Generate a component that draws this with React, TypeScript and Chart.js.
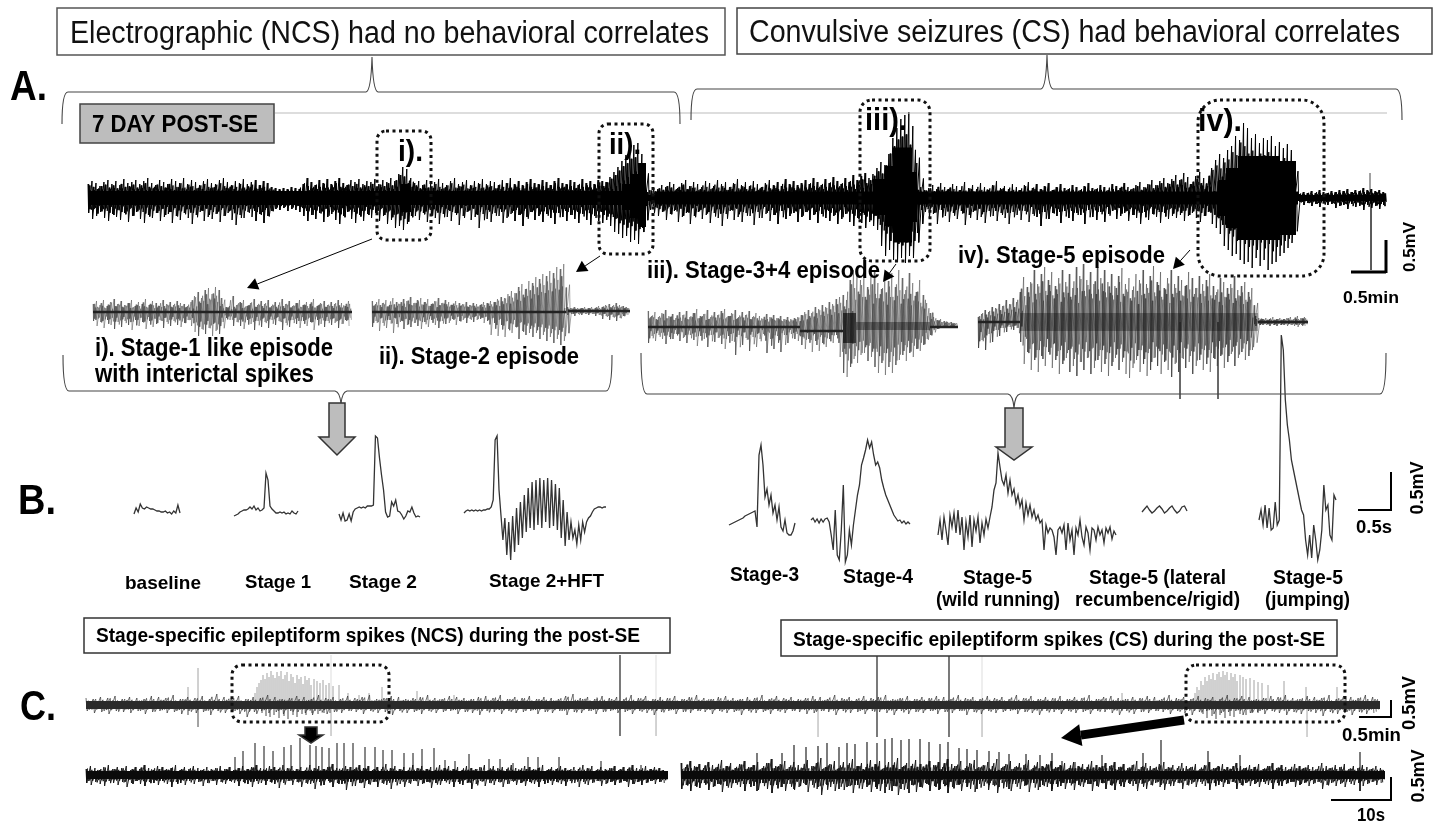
import React, { useEffect, useRef } from "react";
import { Chart, registerables } from "chart.js";
Chart.register(...registerables);

// ---- Panel A overview EEG: envelope amplitudes per sample
const mainHi = [14,17,15,12,16,18,14,17,13,19,15,16,18,14,17,20,15,13,18,16,14,19,17,15,20,14,18,16,13,17,19,15,14,18,20,16,13,17,15,19,14,16,18,13,17,15,11,10,9,10,9,11,10,9,14,20,16,13,18,15,19,14,17,20,15,13,18,16,19,14,17,
16,19,14,18,16,20,17,24,31,29,20,
15,17,13,18,14,16,19,15,13,17,20,14,16,18,13,17,15,19,14,17,16,13,18,15,20,14,17,13,16,19,15,14,18,16,13,17,20,15,14,18,16,13,19,15,17,14,18,
17,16,21,26,31,37,43,47,53,55,44,
7,8,10,9,13,11,16,14,10,15,18,12,16,14,11,17,15,12,18,14,16,11,15,19,13,16,12,17,14,11,15,18,13,16,12,19,14,17,13,15,18,14,20,16,13,19,15,21,17,14,20,16,23,18,22,25,20,24,
30,36,33,44,60,70,79,83,86,72,35,11,
8,10,13,9,15,11,9,14,12,8,16,10,13,9,15,11,8,13,17,10,12,9,14,11,8,13,16,10,14,9,12,15,8,11,14,10,9,13,11,8,12,15,10,9,13,11,8,14,12,10,15,11,9,13,16,11,14,18,13,17,20,15,19,
23,18,25,21,14,22,26,20,12,
30,38,44,40,48,52,62,58,75,70,60,64,55,60,58,62,52,56,50,54,48,
5,4,6,5,7,5,8,6,5,7,6,8,7,9,6,8,7,10,8,9,7,8,6];
const mainLo = [15,21,18,14,20,23,16,19,22,15,24,18,14,21,25,17,20,15,23,19,16,25,18,22,15,20,26,17,14,23,19,21,16,24,18,15,22,27,17,20,14,19,23,16,25,18,13,11,12,10,13,11,12,14,18,23,17,21,15,24,19,16,22,26,18,14,21,25,17,23,16,
20,15,23,18,26,22,30,28,32,26,18,
18,22,15,24,17,20,26,16,19,23,15,27,18,14,22,19,30,16,21,24,15,18,25,20,16,23,17,28,19,14,22,18,24,16,20,26,15,19,23,17,21,25,16,22,27,18,23,
25,22,28,34,36,40,38,44,42,46,30,
8,12,15,18,14,22,16,13,24,19,15,26,18,14,21,17,25,15,20,28,16,13,22,19,24,15,18,27,14,20,16,23,17,26,13,21,18,15,24,19,14,22,17,25,16,20,23,18,26,21,16,24,28,20,25,30,24,28,
32,48,58,52,62,64,60,65,58,60,35,12,
14,20,16,26,12,18,24,15,21,13,27,17,14,22,19,25,13,18,23,15,20,26,14,17,22,13,24,16,19,28,14,21,15,18,25,13,20,23,15,17,26,12,19,22,14,24,16,13,21,18,15,23,17,20,26,14,22,16,19,25,15,21,18,
20,17,23,18,15,20,24,18,14,
26,30,36,48,52,58,56,62,66,64,70,60,68,62,72,66,64,58,55,50,45,
6,4,7,5,8,6,9,5,7,6,10,8,7,11,6,9,8,12,7,10,8,11,7];
const mainSpikeT = [1370, 1371];
const mainSpikeH = [25, -72];

// ---- Panel A expanded episodes
const iHi = [8,11,7,12,6,10,13,8,11,7,9,12,6,10,8,13,7,11,9,6,12,8,10,7,11,9,8,6,10,16,20,14,22,24,18,25,22,8,5,6,16,7,10,12,6,9,13,7,11,8,12,6,10,7,13,8,11,6,9,12,7,10,8,13,6,9,11,7,10,8,12,9,6,11];
const iLo = [9,14,10,16,8,13,17,10,15,9,13,18,8,14,10,17,9,15,12,8,16,10,14,9,13,15,11,8,14,20,24,17,22,16,24,19,22,10,6,8,14,10,14,17,8,12,18,9,15,10,16,8,13,9,18,11,15,8,12,16,9,14,10,18,8,12,15,9,13,11,16,12,8,14];
const iiHi = [10,7,12,8,11,6,13,9,7,12,10,14,8,11,13,9,12,7,10,13,8,11,9,6,10,8,7,9,6,8,7,6,9,8,10,9,12,14,13,17,20,18,24,27,22,30,28,34,32,37,35,40,38,44,42,47,4,3,4,3,3,4,3,4,3,5,4,6,7,5,8,6,5,4];
const iiLo = [16,10,20,12,17,9,22,13,11,18,14,16,12,15,18,11,16,9,14,17,10,13,12,8,14,10,9,12,8,11,9,8,12,10,24,12,25,14,26,18,22,16,28,20,24,22,26,22,28,24,30,26,32,28,34,30,4,3,5,3,4,3,4,3,5,4,8,5,9,6,10,7,5,4];
const iiiHi = [14,9,13,8,12,15,9,11,7,13,10,14,8,12,16,9,11,15,8,13,10,14,16,9,12,15,8,13,10,14,8,12,9,6,11,8,10,7,9,6,8,6,7,8,10,13,15,12,18,16,20,18,23,21,26,28,30,25,45,55,50,45,54,38,48,55,42,36,50,44,52,38,55,47,35,52,42,33,45,30,22,12,8,5,6,4,3,3,2];
const iiiLo = [18,11,16,10,14,19,12,14,9,16,13,18,10,15,21,11,14,22,10,17,13,19,24,11,16,30,10,20,13,26,12,22,14,9,28,14,24,11,27,10,18,9,14,16,20,24,14,27,16,26,18,22,14,18,10,32,48,52,42,34,38,30,28,36,32,42,48,38,50,42,48,40,35,30,36,28,32,24,26,20,14,10,5,4,3,3,2,2,2];
const ivHi = [5,8,12,10,15,14,18,16,22,18,24,20,30,45,35,40,52,38,48,55,42,50,36,44,52,40,48,34,55,46,58,42,50,38,55,44,52,40,48,36,46,54,38,44,32,48,42,52,38,46,56,40,50,34,44,52,38,46,42,36,50,44,34,46,38,42,48,36,30,44,40,34,38,46,32,36,40,30,34,6,4,3,4,3,5,3,4,3,4,5,3,6,4,5];
const ivLo = [26,18,28,12,20,8,14,6,10,5,8,6,20,42,30,48,38,50,34,44,30,46,38,52,42,36,50,44,54,40,48,36,52,46,38,50,42,54,44,36,48,40,52,56,46,38,50,42,54,48,36,44,52,40,48,55,42,50,36,46,40,52,44,38,48,42,50,36,44,34,46,40,32,44,36,30,38,34,28,4,3,3,3,4,3,4,3,3,4,3,4,5,3,4];
const ivSpikeT = [1180, 1218];
const ivSpikeH = [-77, -77];

// ---- Panel B single-spike waveforms
const bBaseline = [-4,2,-2,6,2,1,3,2,1,1,0,-1,-1,-2,-2,-1,-3,-2,-4,-1,-3,5,-3];
const bStage1 = [0,1,2,4,5,6,6,7,9,7,10,6,8,5,6,8,43,36,10,7,5,3,3,4,3,4,2,3,2,5,3,2,5];
const bStage2 = [6,0,7,-1,0,6,-1,8,11,12,13,12,13,12,14,14,14,15,84,82,62,45,30,8,3,4,18,14,20,9,8,5,1,4,9,8,13,7,3,4,3];
const bHft = [-3,-1,0,-1,0,-1,0,-1,0,-1,0,0,1,1,3,10,70,74,20,-5,-30,-8,-45,-12,-50,-6,-42,2,-35,8,-28,15,-22,22,-18,28,-20,30,-15,32,-18,30,-12,32,-18,30,-16,26,-20,22,-28,10,-36,-2,-30,-12,-28,-20,-34,-15,-30,-12,-22,-12,-8,-6,-2,1,2,3,3,2,3,3];
const bStage3 = [0,1,2,3,4,5,6,7,9,10,11,12,13,14,-2,70,80,60,28,36,20,30,12,20,5,18,-2,-6,5,-8,-10,-10,-6,2];
const bStage4 = [0,2,-2,1,-3,1,-2,1,2,-2,-15,-30,10,-35,-40,-10,35,-42,-35,-10,-25,-5,10,25,35,55,62,70,80,72,78,65,55,58,52,40,32,25,20,15,10,5,2,-1,0,-3,-1,-4,-2,-4];
const bWild = [-10,5,-15,8,-5,-20,10,-2,12,-8,15,-10,8,-25,3,-12,10,-22,5,-6,8,-18,2,-10,6,-3,8,18,35,42,72,58,45,40,50,32,45,30,36,22,30,18,25,5,22,10,20,8,15,5,10,2,5,-25,0,-8,-3,-5,-12,-30,-5,-2,-8,0,-25,2,-15,-5,-30,-3,-10,5,-12,-20,-2,-8,-25,-3,-5,-15,-2,-10,-5,-18,-3,-8,-2,-14,-6,-10];
const bLateral = [-2,1,4,0,-3,-1,2,4,1,-3,-1,2,4,0,-3,-1,3,4,-1];
const bJump = [0,10,-5,15,-8,12,-10,-8,18,-5,0,185,170,120,95,80,60,50,40,30,20,10,5,-20,-35,-15,-38,-5,-20,-40,-30,-10,35,10,15,-15,-20,25,20];

// ---- Panel C long traces
const c1Hi = [7,6,8,7,9,6,8,7,6,9,8,7,10,6,8,7,9,6,11,8,7,9,6,8,7,10,8,6,7,9,8,6,10,7,8,6,9,7,8,10,6,7,9,8,6,7,8,10,7,6,9,8,7,6,8,9,7,10,6,8,7,9,6,8,7,6,9,11,7,8,6,9,7,8,6,10,7,9,6,8,7,9,6,8,10,7,6,8,9,7,6,8,7,10,6,9,7,8,6,7,9,8,6,10,7,8,6,9,7,8,10,6,7,9,6,8,7,9,8,6,10,7,8,6,9,7,8,6,10,7,9,6,8,7,9,6,8,7,10,6,8,9,7,6,8,7,9,8,6,10,7,8,6,9,7,8,6,10,7,9,8,6,7,9,8,10,7,6,9,8,7,10,6,9,8,7,10,8];
const c1Lo = [6,8,7,9,6,7,8,6,9,7,6,8,7,9,6,8,7,10,6,8,7,9,12,7,6,8,7,9,6,7,8,10,6,9,7,8,6,7,9,6,8,7,10,6,8,7,9,6,8,7,6,9,7,8,10,6,7,9,6,8,7,6,9,7,8,6,10,7,8,6,9,7,6,8,7,9,6,8,10,7,6,9,7,8,6,7,9,6,8,7,10,6,8,7,9,6,8,6,7,9,8,6,7,10,6,8,7,9,6,7,8,10,6,9,7,8,6,9,7,8,6,10,7,9,6,8,7,6,9,7,8,10,6,7,9,6,8,7,9,6,7,8,10,6,9,7,8,6,7,9,6,8,10,7,6,9,8,7,6,10,8,7,9,6,8,10,7,9,6,8,11,7,9,8,10,7,9,8];
const c1BurstT = [188,198,255,257,259,261,263,265,267,269,271,273,275,277,279,281,283,285,287,289,291,293,295,297,299,301,303,305,307,309,311,314,317,320,323,326,329,333,339,348,359,369,382,417,454,597,1122,1195,1197,1199,1201,1203,1205,1207,1209,1211,1213,1215,1217,1219,1221,1223,1225,1227,1229,1231,1233,1235,1237,1240,1243,1246,1250,1254,1258,1262,1268,1284,1306,1337];
const c1BurstH = [18,37,12,18,22,25,30,26,32,28,34,30,27,33,29,34,26,30,33,24,31,28,22,30,26,28,21,29,25,27,20,26,24,22,25,20,22,19,20,12,10,12,18,14,10,8,12,12,18,15,24,20,28,24,30,26,32,25,31,33,28,34,30,33,25,32,28,31,24,30,28,26,27,25,23,22,20,24,18,18,18];
const c1DownT = [188,198,262,266,270,274,279,284,288,293,297,302,306,312,318,324,330,1203,1207,1212,1216,1220,1225,1230,1234,1240,1246,1252,1258];
const c1DownH = [-10,-22,-8,-11,-12,-10,-13,-11,-14,-10,-12,-9,-10,-8,-9,-8,-8,-9,-13,-11,-14,-10,-13,-11,-12,-9,-10,-8,-8];
const cRuleDarkT = [620, 877, 949];
const cRuleDarkUp = [50, 50, 50];
const cRuleDarkDown = [-31, -32, -32];
const cRuleLightT = [331, 656, 818, 982, 1307];
const cRuleLightUp = [50, 50, 0, 50, 0];
const cRuleLightDown = [-31, -31, -32, -32, -32];

const c2aHi = [6,9,7,5,8,10,6,8,7,9,5,8,6,10,7,5,9,8,6,7,10,5,8,6,9,7,5,8,6,7,9,6,8,5,7,9,6,8,10,7,5,9,8,6,10,7,9,6,8,5,10,7,9,6,8,11,7,5,9,8,6,10,7,9,5,8,6,11,7,9,6,8,5,10,7,9,6,8,5,10,7,9,6,8,5,9,7,6,8,10,5,9,7,8,6,10,7,5,9,8,6,7,10,5,8,6,9,7,5,8,6,10,7,9,5,8,6,7,9,5,8,6,10,7,5,9,6,8,7,5];
const c2aLo = [8,10,7,9,11,6,8,10,7,12,8,6,9,11,7,8,10,6,9,12,7,8,10,6,9,7,11,8,6,10,7,9,6,8,11,7,9,12,6,8,10,7,9,13,8,6,10,7,12,8,9,14,7,10,6,12,8,9,15,7,11,8,13,9,7,12,8,10,14,7,9,12,8,6,11,9,7,13,8,10,6,9,12,7,10,8,14,9,6,11,8,10,7,12,9,6,10,8,11,7,9,12,6,8,10,7,9,11,6,8,12,7,10,8,6,11,9,7,10,8,6,12,9,7,10,8,6,9,7,8];
const c2aSpikeT = [235,243,255,264,273,284,291,300,310,316,322,329,337,344,353,365,375,383,392,404,413,422,434,445,455,469,489,500,513,528,538,559,601,641];
const c2aSpikeH = [18,24,32,29,24,28,30,37,30,29,28,27,32,32,32,28,28,25,25,22,22,26,27,15,14,21,16,16,12,18,18,18,14,10];
const c2bHi = [12,8,14,9,11,7,13,10,8,15,9,12,7,11,14,8,10,13,7,12,16,9,11,14,8,13,10,7,15,9,12,17,8,11,14,7,13,10,16,9,12,8,15,11,14,7,13,10,17,8,12,9,15,11,7,14,10,13,8,16,11,9,14,7,12,15,8,10,13,9,16,7,11,14,8,12,10,15,7,13,9,11,14,8,10,12,7,13,9,11,8,14,10,7,12,9,13,8,11,7,10,14,8,12,9,7,11,13,8,10,7,12,9,8,11,6,10,13,7,9,11,8,6,12,9,7,10,8,11,6,9,12,7,10,8,6,11,9,7,10,8,6,12,9,7,10,8,11,6,9,7,10,8,6,9,7];
const c2bLo = [14,10,16,11,13,8,15,12,9,17,11,13,8,12,16,9,11,15,8,14,18,10,12,16,9,15,12,8,17,10,14,20,9,12,16,8,15,11,18,10,14,9,17,12,16,8,15,11,20,9,14,10,17,12,8,16,11,15,9,18,12,10,16,8,14,17,9,11,15,10,18,8,12,16,9,14,11,17,8,15,10,12,16,9,11,14,8,15,10,12,9,16,11,8,14,10,15,9,12,8,11,16,9,14,10,8,12,15,9,11,8,14,10,9,12,7,11,15,8,10,12,9,7,14,10,8,11,9,12,7,10,14,8,11,9,7,12,10,8,11,9,7,14,10,8,11,9,12,7,10,8,11,9,7,10,8];
const c2bSpikeT = [757,782,794,806,818,827,839,847,855,867,877,885,892,901,909,920,929,940,948,959,967,977,989,999,1009,1026,1040,1052,1062,1075,1102,1143,1161,1208,1240,1360];
const c2bSpikeH = [22,22,30,28,29,32,28,32,31,33,32,36,37,35,36,36,33,31,33,27,26,25,24,23,21,21,20,22,14,13,20,22,35,24,20,23];
const c2bDownH = [-16,-12,-14,-10,-12,-10,-14,-12,-10,-12,-14,-18,-16,-14,-18,-12,-10,-14,-12,-10,-12,-14,-10,-12,-14,-10,-12,-14,-8,-8,-8,-8,-10,-8,-8,-16];

// ---- Layout: where each trace sits on the page
type Env = { hi: number[]; lo: number[]; x0: number; x1: number; base: number; color: string; w: number };
const ENVELOPES: Env[] = [
  { hi: mainHi, lo: mainLo, x0: 88, x1: 1387, base: 198, color: "#000", w: 1 },
  { hi: iHi, lo: iLo, x0: 93, x1: 352, base: 312, color: "rgba(70,70,70,0.6)", w: 0.8 },
  { hi: iiHi, lo: iiLo, x0: 372, x1: 630, base: 311, color: "rgba(70,70,70,0.6)", w: 0.8 },
  { hi: iiiHi, lo: iiiLo, x0: 648, x1: 958, base: 325, color: "rgba(70,70,70,0.6)", w: 0.8 },
  { hi: ivHi, lo: ivLo, x0: 978, x1: 1308, base: 322, color: "rgba(50,50,50,0.6)", w: 0.8 },
  { hi: c1Hi, lo: c1Lo, x0: 86, x1: 1380, base: 705, color: "#333", w: 0.7 },
  { hi: c2aHi, lo: c2aLo, x0: 86, x1: 668, base: 775, color: "#111", w: 0.9 },
  { hi: c2bHi, lo: c2bLo, x0: 681, x1: 1385, base: 775, color: "#111", w: 0.9 },
];
// each pass re-reads neighbouring samples at a reduced gain, so the trace reads as a dense recording
const PASSES = [
  { hi: 0, lo: 0, k: 1, at: 0 },
  { hi: 1, lo: -1, k: 0.74, at: 0.33 },
  { hi: -1, lo: 1, k: 0.56, at: 0.66 },
];
const BANDS = [
  [88, 647, 198, 14, "#000"], [647, 656, 198, 6, "#000"], [656, 1298, 198, 13, "#000"], [1298, 1386, 198, 6, "#000"],
  [401, 411, 198, 28, "#000"],
  [622, 630, 197, 26, "#000"], [630, 638, 196, 44, "#000"], [638, 646, 195, 64, "#000"],
  [873, 885, 197, 36, "#000"], [885, 893, 196, 60, "#000"], [893, 912, 195, 95, "#000"], [912, 917, 197, 50, "#000"],
  [1218, 1226, 198, 36, "#000"], [1226, 1238, 198, 60, "#000"], [1238, 1280, 198, 84, "#000"], [1280, 1296, 198, 74, "#000"],
  [93, 352, 312, 2.5, "#222"], [372, 566, 312, 2.5, "#222"], [568, 630, 311, 2.5, "#222"],
  [648, 800, 327, 2.5, "#222"], [800, 843, 331, 2.5, "#222"], [843, 856, 328, 30, "rgba(0,0,0,0.6)"], [856, 930, 326, 8, "rgba(0,0,0,0.35)"], [930, 958, 327, 2.5, "#222"],
  [978, 1020, 322, 2.5, "#222"], [1020, 1258, 322, 18, "rgba(0,0,0,0.3)"], [1258, 1308, 322, 2.5, "#222"],
  [86, 1380, 705, 8, "#2a2a2a"], [86, 668, 775, 8, "#0a0a0a"], [681, 1385, 775, 8, "#0a0a0a"],
] as const;
const SPIKES = [
  { t: mainSpikeT, h: mainSpikeH, base: 198, color: "#444", w: 1 },
  { t: ivSpikeT, h: ivSpikeH, base: 322, color: "#555", w: 1 },
  { t: c1BurstT, h: c1BurstH, base: 705, color: "#8a8a8a", w: 0.8 },
  { t: c1DownT, h: c1DownH, base: 705, color: "#8a8a8a", w: 0.8 },
  { t: cRuleDarkT, h: cRuleDarkUp, base: 705, color: "#222", w: 1.2 },
  { t: cRuleDarkT, h: cRuleDarkDown, base: 705, color: "#222", w: 1.2 },
  { t: cRuleLightT, h: cRuleLightUp, base: 705, color: "#ddd", w: 1 },
  { t: cRuleLightT, h: cRuleLightDown, base: 705, color: "#ccc", w: 1 },
  { t: c2aSpikeT, h: c2aSpikeH, base: 775, color: "#111", w: 1 },
  { t: c2bSpikeT, h: c2bSpikeH, base: 775, color: "#111", w: 1.1 },
  { t: c2bSpikeT, h: c2bDownH, base: 775, color: "#111", w: 1 },
];
const WAVES = [
  { v: bBaseline, x0: 134, x1: 180, base: 510 },
  { v: bStage1, x0: 234, x1: 298, base: 516 },
  { v: bStage2, x0: 339, x1: 420, base: 520 },
  { v: bHft, x0: 464, x1: 606, base: 510 },
  { v: bStage3, x0: 729, x1: 795, base: 525 },
  { v: bStage4, x0: 811, x1: 910, base: 520 },
  { v: bWild, x0: 938, x1: 1116, base: 525 },
  { v: bLateral, x0: 1142, x1: 1187, base: 510 },
  { v: bJump, x0: 1259, x1: 1336, base: 520 },
];

const SANS = '"Liberation Sans", Arial, sans-serif';
// text, x, baseline y, px size, bold, fitted width
const LABELS: [string, number, number, number, boolean, number][] = [
  ["Electrographic (NCS) had no behavioral correlates", 70, 43, 31, false, 639],
  ["Convulsive seizures (CS) had behavioral correlates", 749, 42, 31, false, 651],
  ["A.", 10, 100, 42, true, 37],
  ["7 DAY POST-SE", 92, 132, 24, true, 166],
  ["i).", 398, 161, 30, true, 25],
  ["ii).", 609, 154, 30, true, 32],
  ["iii).", 865, 130, 32, true, 42],
  ["iv).", 1198, 131, 32, true, 44],
  ["iii). Stage-3+4 episode", 647, 278, 24, true, 233],
  ["iv). Stage-5 episode", 958, 263, 24, true, 207],
  ["0.5min", 1343, 303, 17, true, 56],
  ["i). Stage-1 like episode", 95, 356, 25, true, 238],
  ["with interictal spikes", 95, 382, 25, true, 219],
  ["ii). Stage-2 episode", 379, 364, 24, true, 200],
  ["B.", 18, 514, 42, true, 38],
  ["baseline", 125, 589, 19, true, 76],
  ["Stage 1", 245, 588, 19, true, 66],
  ["Stage 2", 349, 588, 19, true, 68],
  ["Stage 2+HFT", 489, 587, 19, true, 115],
  ["Stage-3", 730, 581, 20, true, 69],
  ["Stage-4", 843, 583, 20, true, 70],
  ["Stage-5", 963, 584, 20, true, 69],
  ["(wild running)", 936, 606, 20, true, 124],
  ["Stage-5 (lateral", 1089, 584, 20, true, 137],
  ["recumbence/rigid)", 1075, 606, 20, true, 165],
  ["Stage-5", 1273, 584, 20, true, 70],
  ["(jumping)", 1265, 606, 20, true, 85],
  ["0.5s", 1356, 533, 18, true, 36],
  ["C.", 20, 720, 42, true, 36],
  ["Stage-specific epileptiform spikes (NCS) during the post-SE", 96, 642, 20, true, 544],
  ["Stage-specific epileptiform spikes (CS) during the post-SE", 793, 646, 20, true, 532],
  ["0.5min", 1342, 741, 18, true, 59],
  ["10s", 1357, 821, 18, true, 28],
];
const VLABELS: [string, number, number, number, number][] = [
  ["0.5mV", 1410, 247, 17, 50],
  ["0.5mV", 1418, 488, 18, 53],
  ["0.5mV", 1410, 703, 18, 54],
  ["0.5mV", 1419, 776, 18, 53],
];
const BOXES: [number, number, number, number, string, string, number][] = [
  [57, 8, 668, 47, "#fff", "#555", 1.5],
  [737, 8, 695, 46, "#fff", "#444", 1.5],
  [80, 104, 194, 39, "#bdbdbd", "#444", 1.5],
  [84, 618, 586, 35, "#fff", "#333", 1.5],
  [781, 620, 556, 36, "#fff", "#333", 1.5],
];
const DOTTED: [number, number, number, number, number][] = [
  [377, 131, 54, 109, 9], [599, 124, 54, 130, 9], [860, 100, 70, 161, 12], [1198, 100, 126, 176, 22],
  [232, 665, 157, 57, 10], [1186, 665, 159, 57, 10],
];
// x0, yEnd, x1, yLine, tip x, tip y
const BRACES: [number, number, number, number, number, number][] = [
  [62, 124, 680, 92, 372, 57], [691, 120, 1402, 89, 1047, 55],
  [63, 355, 612, 391, 341, 404], [641, 353, 1386, 394, 1014, 408],
];
const RULES: [number, number, number, number, number, string][] = [
  [275, 113, 1387, 113, 1, "#bbb"],
  [1351, 272, 1386, 272, 3, "#000"], [1386, 240, 1386, 273, 3, "#000"],
  [1358, 510, 1392, 510, 2, "#000"], [1391, 472, 1391, 511, 2, "#000"],
  [1359, 717, 1392, 717, 2, "#000"], [1391, 700, 1391, 718, 2, "#000"],
  [1331, 800, 1392, 800, 2, "#000"], [1391, 777, 1391, 801, 2, "#000"],
];
const ARROWS: [number, number, number, number, number, number][] = [
  [372, 239, 247, 288, 1, 11], [600, 256, 576, 272, 1, 11], [896, 264, 883, 282, 1, 11], [1190, 250, 1173, 269, 1, 11],
  [1184, 720, 1061, 738, 9, 20],
];
const BLOCK_ARROWS: [number, number, number, number, number, number, string][] = [
  [337, 403, 437, 455, 8, 18, "#bdbdbd"], [1014, 408, 447, 460, 9, 18, "#bdbdbd"], [311, 727, 735, 743, 6, 12, "#000"],
];

function App() {
  const ref = useRef<HTMLCanvasElement>(null);
  useEffect(() => {
    const datasets: any[] = [];
    const line = (data: any[], color: string, w: number) =>
      datasets.push({ data, borderColor: color, borderWidth: w, pointRadius: 0, tension: 0, spanGaps: false, borderJoinStyle: "miter", fill: false });
    BANDS.forEach(([a, b, y, w, c]) => line([{ x: a, y }, { x: b, y }], c, w));
    ENVELOPES.forEach((e) => {
      const n = e.hi.length;
      const step = (e.x1 - e.x0) / n;
      const at = (arr: number[], i: number) => arr[Math.min(arr.length - 1, Math.max(0, i))];
      PASSES.forEach((p) => {
        const pts: any[] = [];
        e.hi.forEach((_, i) => {
          const x = e.x0 + (i + p.at) * step;
          pts.push({ x, y: e.base - at(e.hi, i + p.hi) * p.k });
          pts.push({ x: x + step * 0.16, y: e.base + at(e.lo, i + p.lo) * p.k });
        });
        line(pts, e.color, e.w);
      });
    });
    SPIKES.forEach((s) => {
      const pts: any[] = [];
      s.t.forEach((t, i) => {
        pts.push({ x: t, y: s.base }, { x: t, y: s.base - s.h[i] }, { x: t, y: NaN });
      });
      line(pts, s.color, s.w);
    });
    WAVES.forEach((w) => {
      const step = (w.x1 - w.x0) / (w.v.length - 1);
      line(w.v.map((a, i) => ({ x: w.x0 + i * step, y: w.base - a })), "#333", 1.3);
    });

    const fit = (c: CanvasRenderingContext2D, t: string, w: number) => {
      const m = c.measureText(t).width;
      c.scale(w / m, 1);
      c.fillText(t, 0, 0);
    };

    const annotations = {
      id: "annotations",
      afterDatasetsDraw(chart: any) {
        const c = chart.ctx as CanvasRenderingContext2D;
        const X = (v: number) => chart.scales.x.getPixelForValue(v);
        const Y = (v: number) => chart.scales.y.getPixelForValue(v);
        c.save();
        c.lineCap = "butt";
        RULES.forEach(([a, b, d, e, w, col]) => {
          c.strokeStyle = col; c.lineWidth = w;
          c.beginPath(); c.moveTo(X(a), Y(b)); c.lineTo(X(d), Y(e)); c.stroke();
        });
        BOXES.forEach(([x, y, w, h, f, s, lw]) => {
          c.fillStyle = f; c.strokeStyle = s; c.lineWidth = lw;
          c.fillRect(X(x), Y(y), w, h); c.strokeRect(X(x), Y(y), w, h);
        });
        c.strokeStyle = "#444"; c.lineWidth = 1.1;
        BRACES.forEach(([x0, yEnd, x1, yL, tx, ty]) => {
          const t = Math.sign(ty - yL);
          c.beginPath();
          c.moveTo(X(x0), Y(yEnd));
          c.quadraticCurveTo(X(x0), Y(yL), X(x0 + 6), Y(yL));
          c.lineTo(X(tx - 6), Y(yL));
          c.quadraticCurveTo(X(tx - 1), Y(yL + t), X(tx), Y(ty));
          c.quadraticCurveTo(X(tx + 1), Y(yL + t), X(tx + 6), Y(yL));
          c.lineTo(X(x1 - 6), Y(yL));
          c.quadraticCurveTo(X(x1), Y(yL), X(x1), Y(yEnd));
          c.stroke();
        });
        c.strokeStyle = "#111"; c.lineWidth = 3; c.setLineDash([3, 3.5]);
        DOTTED.forEach(([x, y, w, h, r]) => {
          c.beginPath(); c.roundRect(X(x), Y(y), w, h, r); c.stroke();
        });
        c.setLineDash([]);
        ARROWS.forEach(([x0, y0, x1, y1, w, head]) => {
          const ang = Math.atan2(y1 - y0, x1 - x0);
          const bx = x1 - Math.cos(ang) * head, by = y1 - Math.sin(ang) * head;
          c.strokeStyle = "#000"; c.fillStyle = "#000"; c.lineWidth = w;
          c.beginPath(); c.moveTo(X(x0), Y(y0)); c.lineTo(X(bx), Y(by)); c.stroke();
          const half = head * 0.55;
          c.beginPath(); c.moveTo(X(x1), Y(y1));
          c.lineTo(X(bx - Math.sin(ang) * half), Y(by + Math.cos(ang) * half));
          c.lineTo(X(bx + Math.sin(ang) * half), Y(by - Math.cos(ang) * half));
          c.closePath(); c.fill();
        });
        BLOCK_ARROWS.forEach(([x, top, neck, tip, hw, hh, f]) => {
          c.fillStyle = f; c.strokeStyle = "#333"; c.lineWidth = 1.5;
          c.beginPath();
          c.moveTo(X(x - hw), Y(top)); c.lineTo(X(x + hw), Y(top)); c.lineTo(X(x + hw), Y(neck));
          c.lineTo(X(x + hh), Y(neck)); c.lineTo(X(x), Y(tip)); c.lineTo(X(x - hh), Y(neck));
          c.lineTo(X(x - hw), Y(neck)); c.closePath(); c.fill(); c.stroke();
        });
        c.textBaseline = "alphabetic"; c.textAlign = "left";
        LABELS.forEach(([t, x, y, size, bold, w]) => {
          c.save();
          c.font = `${bold ? "bold " : ""}${size}px ${SANS}`;
          c.fillStyle = bold ? "#000" : "#111";
          c.translate(X(x), Y(y));
          fit(c, t, w);
          c.restore();
        });
        VLABELS.forEach(([t, x, y, size, w]) => {
          c.save();
          c.fillStyle = "#000";
          c.translate(X(x), Y(y)); c.rotate(-Math.PI / 2);
          c.translate(-w / 2, 0);
          c.textBaseline = "middle";
          c.font = `bold ${size}px ${SANS}`;
          fit(c, t, w);
          c.restore();
        });
        c.restore();
      },
    };

    const chart = new Chart(ref.current!, {
      type: "line",
      data: { datasets },
      options: {
        animation: false,
        responsive: false,
        layout: { padding: 0 },
        events: [],
        plugins: { legend: { display: false }, tooltip: { enabled: false } },
        scales: {
          x: { type: "linear", min: 0, max: 1443, display: false },
          y: { type: "linear", min: 0, max: 824, reverse: true, display: false },
        },
      },
      plugins: [annotations],
    } as any);
    return () => chart.destroy();
  }, []);
  return (
    <canvas
      ref={ref}
      width={1443}
      height={824}
      style={{ position: "fixed", left: 0, top: 0, width: 1443, height: 824, background: "#fff", display: "block" }}
    />
  );
}
export default App;
